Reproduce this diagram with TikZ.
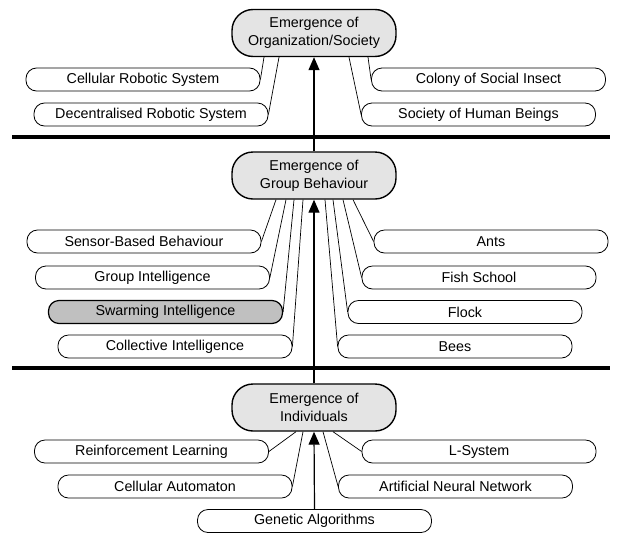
\documentclass[tikz,border=0pt]{standalone}
\usepackage{fontspec}
\setmainfont{Liberation Sans}
\usetikzlibrary{arrows.meta}
\definecolor{hubgray}{RGB}{228,228,228}
\definecolor{swarmgray}{RGB}{192,192,192}
\begin{document}
\begin{tikzpicture}[x=1pt,y=-1pt,
  every node/.style={font=\fontsize{14.3}{18}\selectfont},
  hub/.style={draw, line width=1.4pt, fill=hubgray, rounded corners=21pt,
    minimum width=164pt, minimum height=47pt, align=center, inner sep=0pt},
  leaf/.style={draw, line width=0.8pt, fill=white, rounded corners=10.5pt,
    minimum width=234pt, minimum height=23pt, inner sep=0pt},
  hilite/.style={leaf, fill=swarmgray, line width=1.2pt},
  link/.style={line width=0.7pt},
  rise/.style={line width=1.2pt, -{Triangle[width=11pt,length=13pt]}},
  divider/.style={line width=3.8pt}
]
\useasboundingbox (0,0) rectangle (620,533);

% level dividers
\coordinate (d1l) at (12,137);
\coordinate (d1r) at (610,137);
\coordinate (d2l) at (12,368);
\coordinate (d2r) at (610,368);
\draw[divider] (d1l) -- (d1r);
\draw[divider] (d2l) -- (d2r);

% emergence levels
\node[hub] (top) at (314,33) {Emergence of\\Organization/Society};
\node[hub] (mid) at (314,175.5) {Emergence of\\Group Behaviour};
\node[hub] (bot) at (314,407.5) {Emergence of\\Individuals};

% organization / society level
\node[leaf] (crs) at (143,79.5) {Cellular Robotic System};
\node[leaf] (drs) at (151,114.5) {Decentralised Robotic System};
\node[leaf] (csi) at (488.5,79.5) {Colony of Social Insect};
\node[leaf] (shb) at (478.5,114.5) {Society of Human Beings};

\coordinate (t1) at ([xshift=-50pt]top.south);
\coordinate (t2) at ([xshift=-35pt]top.south);
\coordinate (t3) at ([xshift=35pt]top.south);
\coordinate (t4) at ([xshift=54pt]top.south);
\draw[link] (crs.east) -- (t1);
\draw[link] (drs.east) -- (t2);
\draw[link] (shb.west) -- (t3);
\draw[link] (csi.west) -- (t4);

% group behaviour level
\node[leaf] (sbb) at (144,241.5) {Sensor-Based Behaviour};
\node[leaf] (gri) at (152.5,277.5) {Group Intelligence};
\node[hilite] (swi) at (165.5,312) {Swarming Intelligence};
\node[leaf] (coi) at (175,346.5) {Collective Intelligence};
\node[leaf] (ant) at (491,241.5) {Ants};
\node[leaf] (fsh) at (479,277.5) {Fish School};
\node[leaf] (flk) at (465,312) {Flock};
\node[leaf] (bee) at (455,346.5) {Bees};

\coordinate (m1) at ([xshift=-38pt]mid.south);
\coordinate (m2) at ([xshift=-28pt]mid.south);
\coordinate (m3) at ([xshift=-20pt]mid.south);
\coordinate (m4) at ([xshift=-11pt]mid.south);
\coordinate (m5) at ([xshift=11pt]mid.south);
\coordinate (m6) at ([xshift=19pt]mid.south);
\coordinate (m7) at ([xshift=29pt]mid.south);
\coordinate (m8) at ([xshift=39pt]mid.south);
\draw[link] (sbb.east) -- (m1);
\draw[link] (gri.east) -- (m2);
\draw[link] (swi.east) -- (m3);
\draw[link] (coi.east) -- (m4);
\draw[link] (bee.west) -- (m5);
\draw[link] (flk.west) -- (m6);
\draw[link] (fsh.west) -- (m7);
\draw[link] (ant.west) -- (m8);

% individuals level
\node[leaf] (rfl) at (151.5,451.5) {Reinforcement Learning};
\node[leaf] (cau) at (175,486.5) {Cellular Automaton};
\node[leaf] (gal) at (314.5,521) {Genetic Algorithms};
\node[leaf] (lsy) at (479,451.5) {L-System};
\node[leaf] (ann) at (455.5,486.5) {Artificial Neural Network};

\coordinate (b1) at ([xshift=-18pt]bot.south);
\coordinate (b2) at ([xshift=-11pt]bot.south);
\coordinate (b3) at ([xshift=9pt]bot.south);
\coordinate (b4) at ([xshift=19pt]bot.south);
\draw[link] (rfl.east) -- (b1);
\draw[link] (cau.east) -- (b2);
\draw[link] (ann.west) -- (b3);
\draw[link] (lsy.west) -- (b4);

% upward emergence arrows
\draw[rise] (mid.north) -- (top.south);
\draw[rise] (bot.north) -- (mid.south);
\draw[rise] (gal.north) -- (bot.south);
\end{tikzpicture}
\end{document}
